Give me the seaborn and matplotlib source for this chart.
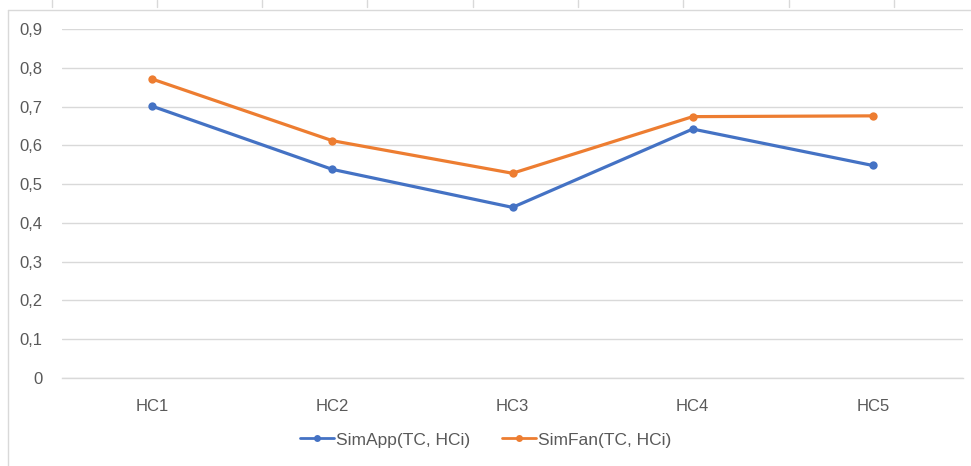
import pandas as pd
import matplotlib
matplotlib.use('Agg')
import matplotlib.pyplot as plt
from matplotlib.lines import Line2D
from matplotlib.ticker import FuncFormatter
import seaborn as sns

# values
categories = ['HC1', 'HC2', 'HC3', 'HC4', 'HC5']
sim_app = [0.701, 0.538, 0.440, 0.642, 0.548]
sim_fan = [0.771, 0.612, 0.528, 0.674, 0.676]
series_names = ['SimApp(TC, HCi)', 'SimFan(TC, HCi)']

df = pd.DataFrame({
    'case': categories * 2,
    'value': sim_app + sim_fan,
    'series': [series_names[0]] * 5 + [series_names[1]] * 5,
})

sns.set_style('white')
plt.rcParams['font.family'] = ['Liberation Sans', 'DejaVu Sans']

grey_txt = '#595959'
grid_col = '#d9d9d9'

fig = plt.figure(figsize=(9.71, 4.66), dpi=100)
ax = fig.add_axes([62 / 971, 1 - 378 / 466, 901 / 971, 349 / 466])

sns.lineplot(data=df, x='case', y='value', hue='series', marker='o',
             palette=['#4472C4', '#ED7D31'], linewidth=2.3, markersize=6,
             markeredgewidth=0, sort=False, ax=ax)

ax.set_ylim(0, 0.9)
ax.set_xlim(-0.5, 4.5)
ax.set_yticks([i / 10 for i in range(10)])
ax.yaxis.set_major_formatter(FuncFormatter(lambda v, p: '0' if v == 0 else f'{v:.1f}'.replace('.', ',')))
ax.grid(axis='y', color=grid_col, linewidth=1.0)
ax.set_axisbelow(True)
for s in ['top', 'right', 'left']:
    ax.spines[s].set_visible(False)
ax.spines['bottom'].set_color(grid_col)
ax.spines['bottom'].set_linewidth(1.0)
ax.tick_params(axis='both', length=0, labelsize=12, colors=grey_txt)
ax.tick_params(axis='y', pad=14)
ax.tick_params(axis='x', pad=15)
ax.set_xlabel('')
ax.set_ylabel('')

handles, labels = ax.get_legend_handles_labels()
ax.get_legend().remove()
for h in handles:
    h.set_markersize(5)
    h.set_linewidth(2.0)
fig.legend(handles, labels, loc='center', bbox_to_anchor=(0.5, 1 - 440 / 466),
           ncol=2, frameon=False, fontsize=12.5, labelcolor=grey_txt,
           handlelength=2.0, handletextpad=0.1, columnspacing=1.8)

# outer chart frame and sheet column marks (cropped in the reference)
fig.add_artist(Line2D([8 / 971, 8 / 971], [0, 1 - 10 / 466], color=grid_col, linewidth=1.0))
fig.add_artist(Line2D([8 / 971, 1], [1 - 10 / 466, 1 - 10 / 466], color=grid_col, linewidth=1.0))
for px in [52, 157, 262, 367, 473, 578, 683, 789, 894]:
    fig.add_artist(Line2D([px / 971, px / 971], [1 - 7 / 466, 1], color=grid_col, linewidth=1.0))

fig.savefig('out.png', dpi=100)
